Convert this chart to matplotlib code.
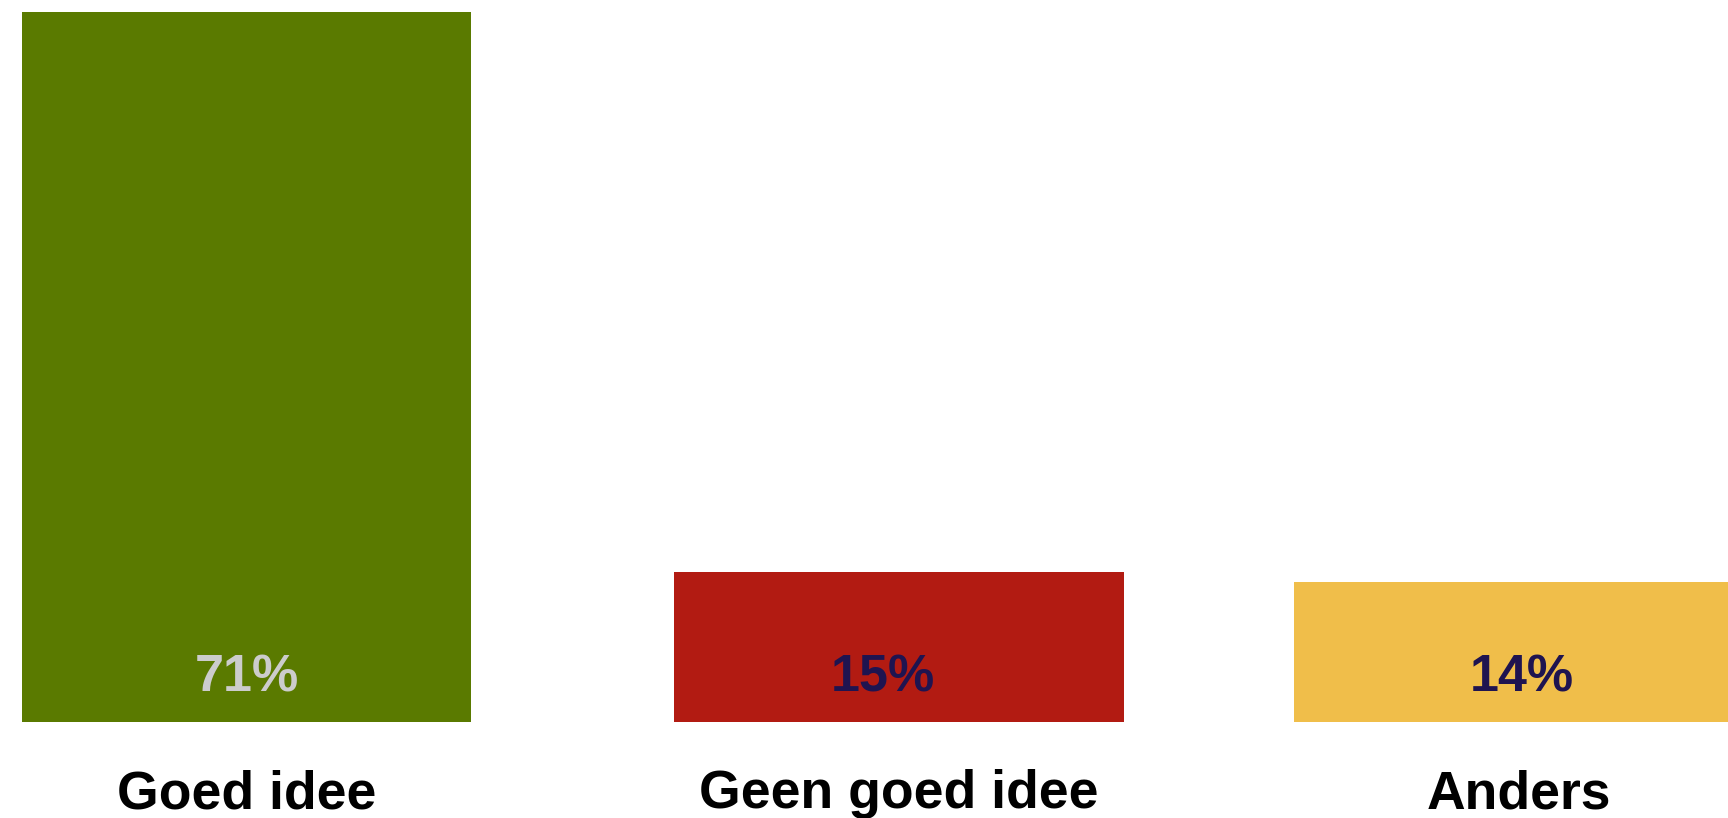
import matplotlib.pyplot as plt

# --- DATA ---
categories = ['Goed idee', 'Geen goed idee', 'Anders']
values = [71, 15, 14]
labels = ['71%', '15%', '14%']

# --- STYLE ---
BAR_COLORS = ['#5a7a00', '#b21b12', '#f0be4a']
TEXT_COLORS = ['#cccccc', '#1f1450', '#1f1450']
POSITIONS = [0, 1, 1.949]   # centres are not evenly spaced in the original
LABEL_SHIFT = [0, -0.025, 0.005]  # the percent labels sit a bit off-centre
BAR_WIDTH = 0.689

plt.rcParams['font.family'] = ['Liberation Sans', 'DejaVu Sans']

fig = plt.figure(figsize=(17.28, 8.18), dpi=100)
ax = fig.add_axes([0, 0.1173, 1, 0.868])

ax.bar(POSITIONS, values, width=BAR_WIDTH, color=BAR_COLORS)

for x, dx, lab, col in zip(POSITIONS, LABEL_SHIFT, labels, TEXT_COLORS):
    ax.text(x + dx, 4.4, lab, ha='center', va='center', fontsize=37.5,
            fontweight='bold', color=col)

ax.set_xlim(-0.378, 2.270)
ax.set_ylim(0, 71)
ax.set_xticks(POSITIONS)
ax.set_xticklabels(categories, fontsize=38.5, fontweight='bold')
ax.tick_params(axis='x', length=0, pad=34)
ax.set_yticks([])
for s in ax.spines.values():
    s.set_visible(False)

fig.savefig('out.png', dpi=100)
